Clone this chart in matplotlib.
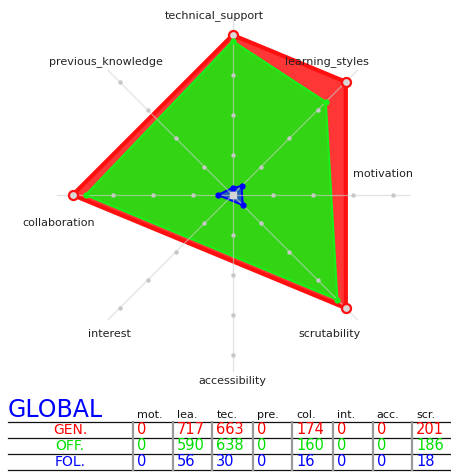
import matplotlib.pyplot as plt
import numpy as np

# radar axes, clockwise from the top
axis_names = ["technical_support", "learning_styles", "motivation", "scrutability",
              "accessibility", "interest", "collaboration", "previous_knowledge"]

# table columns (same order as the values below)
col_keys = ["motivation", "learning_styles", "technical_support", "previous_knowledge",
            "collaboration", "interest", "accessibility", "scrutability"]
col_labels = ["mot.", "lea.", "tec.", "pre.", "col.", "int.", "acc.", "scr."]

series_names = ["GEN.", "OFF.", "FOL."]
gen = [0, 717, 663, 0, 174, 0, 0, 201]
off = [0, 590, 638, 0, 160, 0, 0, 186]
fol = [0, 56, 30, 0, 16, 0, 0, 18]

series_text = ["#ff0000", "#00e000", "#0000ff"]
series_fill = ["#ff3636", "#33d414", "#2060b0"]
series_edge = ["#ff1010", "#19f019", "#0000ff"]

plt.rcParams['font.family'] = ['DejaVu Sans']

fig = plt.figure(figsize=(4.51, 4.73), dpi=100)

# ---- radar part: cartesian axes, 160 px = 1 unit, centre at (232.7, 195) px
ax = fig.add_axes([0, 0, 1, 1])
cx, cy, R = 232.7, 195.0, 160.0
ax.set_xlim(-cx / R, (451 - cx) / R)
ax.set_ylim(-(473 - cy) / R, cy / R)
ax.axis('off')

angles = np.arange(len(axis_names)) * 2 * np.pi / len(axis_names)
ux, uy = np.sin(angles), np.cos(angles)

# normalise each axis by its largest value over the series
rows = np.array([gen, off, fol], dtype=float)
col_max = rows.max(axis=0)
col_max[col_max == 0] = 1
norm = rows / col_max
order = [col_keys.index(n) for n in axis_names]

for i, name in enumerate(series_names):
  r = norm[i, order]
  keep = r > 0  # zero values are left out of the outline
  xs, ys = (r * ux)[keep], (r * uy)[keep]
  lw = [3.0, 1.5, 1.4][i]
  ax.fill(xs, ys, facecolor=series_fill[i], edgecolor='none', zorder=2 + i)
  ax.plot(np.append(xs, xs[0]), np.append(ys, ys[0]), color=series_edge[i], lw=lw,
          solid_joinstyle='round', zorder=2 + i)
  if i == 0:
    ax.plot(xs, ys, 'o', ms=6.5, mfc='#d8d8d8', mec=series_edge[i], mew=1.6, zorder=8)
  else:
    ax.plot(xs, ys, 'o', ms=3.5, color=series_edge[i], zorder=8)

# grid: spokes and level dots drawn over the shapes
levels = np.array([0.25, 0.5, 0.75, 1.0])
for a in range(len(axis_names)):
  ax.plot([0, 1.1 * ux[a]], [0, 1.1 * uy[a]], color='#d0d0d0', lw=0.9, alpha=0.6, zorder=6)
  ax.plot(levels * ux[a], levels * uy[a], 'o', ms=3.2, color='#c8c8c8', mew=0, zorder=7)
ax.plot([0], [0], 's', ms=5, color='#d4d4d4', zorder=9)

# axis labels (offsets in pixels from the spoke ends)
label_offsets = [(-18, 3), (-30, 9), (-26, 21), (-28, -15),
                 (0, -10), (1, -15), (2, -28), (-2, 9)]
for a, name in enumerate(axis_names):
  ax.annotate(name, (1.1 * ux[a], 1.1 * uy[a]), xytext=label_offsets[a],
              textcoords='offset pixels', ha='center', va='center',
              fontsize=8, color='#222222')

# ---- table part, in pixel units
tb = fig.add_axes([0, 0, 1, 93 / 473])
tb.set_xlim(0, 451)
tb.set_ylim(473, 380)
tb.axis('off')

tb.text(8, 410, "GLOBAL", color='#0000ff', fontsize=17, ha='left', va='center')

col_x = [132.7, 172.7, 212.3, 253.3, 292.3, 333.3, 372.7, 412.3]
row_y = [430, 445.7, 461.7]
line_y = [421.7, 438.3, 454, 470]

for y in line_y:
  tb.plot([8, 451], [y, y], color='#111111', lw=0.9)
for x in col_x:
  tb.plot([x, x], [line_y[0], line_y[-1]], color='#999999', lw=1.6)

for j, lab in enumerate(col_labels):
  tb.text(col_x[j] + 4, 414.5, lab, fontsize=8, ha='left', va='center', color='#111111')

for i, name in enumerate(series_names):
  tb.text(70, row_y[i], name, fontsize=10, ha='center', va='center', color=series_text[i])
  for j, v in enumerate(rows[i]):
    tb.text(col_x[j] + 4, row_y[i], f"{int(v)}", fontsize=10.5, ha='left', va='center',
            color=series_text[i])

fig.savefig("out.png", dpi=100)
